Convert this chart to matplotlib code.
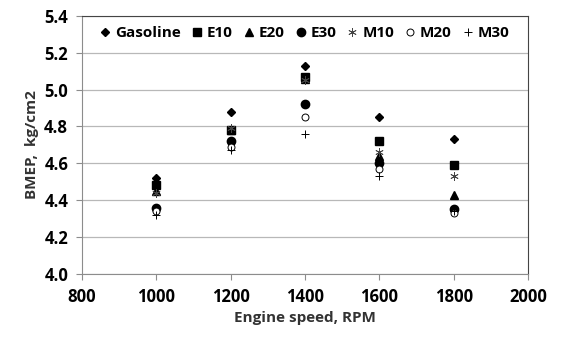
import matplotlib.pyplot as plt

plt.rcParams['font.family'] = ['Open Sans', 'DejaVu Sans']

# engine speed (RPM) and BMEP (kg/cm2) for each fuel blend
rpm = [1000, 1200, 1400, 1600, 1800]
gasoline = [4.52, 4.88, 5.13, 4.85, 4.73]
e10 = [4.48, 4.78, 5.07, 4.72, 4.59]
e20 = [4.45, 4.78, 5.06, 4.64, 4.43]
e30 = [4.36, 4.72, 4.92, 4.60, 4.35]
m10 = [4.44, 4.79, 5.05, 4.66, 4.53]
m20 = [4.34, 4.69, 4.85, 4.57, 4.33]
m30 = [4.32, 4.67, 4.76, 4.53, 4.34]

fig = plt.figure(figsize=(5.62, 3.39), dpi=100)
ax = fig.add_axes([0.146, 0.192, 0.7935, 0.761])

ax.plot(rpm, gasoline, 'D', ms=4.2, color='black', label='Gasoline')
ax.plot(rpm, e10, 's', ms=5.5, color='black', label='E10')
ax.plot(rpm, e20, '^', ms=5.5, color='black', label='E20')
ax.plot(rpm, e30, 'o', ms=6, color='black', label='E30')
ax.plot(rpm, m10, marker=(6, 2, 0), ls='none', ms=6, mew=0.6, color='#444444', label='M10')
ax.plot(rpm, m20, 'o', ms=5, mfc='white', mec='black', mew=0.7, label='M20')
ax.plot(rpm, m30, '+', ms=6, mew=0.7, color='black', label='M30')

ax.set_xlim(800, 2000)
ax.set_ylim(4.0, 5.4)
ax.set_xticks(range(800, 2001, 200))
ax.set_yticks([4.0, 4.2, 4.4, 4.6, 4.8, 5.0, 5.2, 5.4])
ax.set_yticklabels(['%.1f' % v for v in ax.get_yticks()])

ax.grid(axis='y', color='#b8b8b8', lw=0.9)
ax.set_axisbelow(True)
for side in ['left', 'bottom']:
    ax.spines[side].set_color('#8c8c8c')
for side in ['top', 'right']:
    ax.spines[side].set_color('#444444')
ax.tick_params(axis='both', direction='out', length=4, color='#8c8c8c',
               labelsize=12, pad=6)
for lbl in ax.get_xticklabels() + ax.get_yticklabels():
    lbl.set_fontweight('bold')

ax.set_xlabel('Engine speed, RPM', fontsize=11, fontweight='bold', color='#333333')
ax.set_ylabel('BMEP,  kg/cm2', fontsize=11, fontweight='bold', color='#333333')

ax.legend(loc='upper center', ncol=7, frameon=False,
          prop={'weight': 'bold', 'size': 11}, handlelength=0.6,
          handletextpad=0.35, columnspacing=0.75, borderaxespad=0.25,
          bbox_to_anchor=(0.5, 1.0))

fig.savefig('out.png', dpi=100)
